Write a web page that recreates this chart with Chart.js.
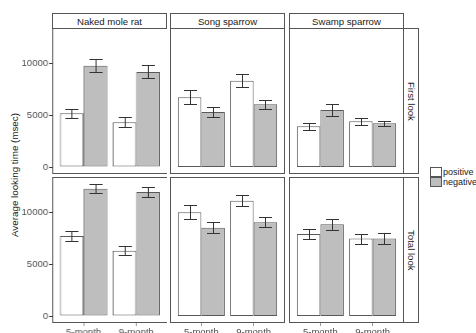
<!DOCTYPE html>
<html>
<head>
<meta charset="utf-8">
<script src="https://cdn.jsdelivr.net/npm/chart.js@4"></script>
<style>
  html, body { margin: 0; padding: 0; background: #fff; overflow: hidden; }
  body { width: 476px; height: 333px; position: relative; font-family: 'Liberation Sans', Arial, sans-serif; }
  .box { position: absolute; }
  .strip { position: absolute; box-sizing: border-box; border: 1px solid #555; background: #fff;
           color: #1a1a1a; font-size: 9.6px; display: flex; align-items: center; justify-content: center; }
  .side { writing-mode: vertical-rl; }
  .key { position: absolute; box-sizing: border-box; border: 1px solid #555; width: 12px; height: 10px; }
  .keytxt { position: absolute; font-size: 9px; color: #1a1a1a; line-height: 10px; }
  #ytitle { position: absolute; left: 14px; top: 175px; transform: translate(-50%, -50%) rotate(-90deg);
            font-size: 9.8px; color: #1a1a1a; white-space: nowrap; }
</style>
</head>
<body>
<div id="ytitle">Average looking time (msec)</div>
<div class="key" style="left:430px;top:167px;background:#fff"></div>
<div class="key" style="left:430px;top:177px;background:#bebebe"></div>
<div class="keytxt" style="left:443px;top:167px">positive</div>
<div class="keytxt" style="left:443px;top:177px">negative</div>

<script>
var species = ['Naked mole rat', 'Song sparrow', 'Swamp sparrow'];
var ages = ['5-month', '9-month'];
var measures = ['First look', 'Total look'];
var yTicks = [0, 5000, 10000];

// mean per species, [5-month, 9-month]
var firstPositive = [[5160, 4300], [6700, 8300], [3910, 4390]];
var firstPositiveSE = [[420, 500], [670, 620], [360, 340]];
var firstNegative = [[9740, 9140], [5290, 6030], [5480, 4200]];
var firstNegativeSE = [[610, 620], [510, 450], [530, 240]];
var totalPositive = [[7690, 6280], [9970, 11090], [7890, 7440]];
var totalPositiveSE = [[510, 420], [690, 530], [500, 480]];
var totalNegative = [[12240, 11920], [8490, 9010], [8810, 7440]];
var totalNegativeSE = [[430, 450], [510, 500], [510, 510]];

var posValues = [firstPositive, totalPositive];
var posErrors = [firstPositiveSE, totalPositiveSE];
var negValues = [firstNegative, totalNegative];
var negErrors = [firstNegativeSE, totalNegativeSE];

var panelLeft = [52, 170, 289];
var panelWidth = 115;
var rowTop = [28, 177];
var panelHeight = 146;
var yAxisWidth = 40;
var xAxisHeight = 10;
// ggplot discrete expansion: 0.6 units each side of 2 categories
var pad = panelWidth * 0.05 / 1.1;

var tickFont = { family: "'Liberation Sans', Arial, sans-serif", size: 9.5 };

var errorBars = {
    id: 'errorBars',
    afterDatasetsDraw: function (chart) {
        var ctx = chart.ctx;
        var ys = chart.scales.y;
        ctx.save();
        ctx.strokeStyle = '#333';
        ctx.lineWidth = 1;
        chart.data.datasets.forEach(function (ds, i) {
            var meta = chart.getDatasetMeta(i);
            meta.data.forEach(function (bar, j) {
                var v = ds.data[j];
                var e = ds.err[j];
                var x = Math.round(bar.x) + 0.5;
                var top = Math.round(ys.getPixelForValue(v + e)) + 0.5;
                var bot = Math.round(ys.getPixelForValue(v - e)) + 0.5;
                ctx.beginPath();
                ctx.moveTo(x, top); ctx.lineTo(x, bot);
                ctx.moveTo(x - 6.5, top); ctx.lineTo(x + 6.5, top);
                ctx.moveTo(x - 6.5, bot); ctx.lineTo(x + 6.5, bot);
                ctx.stroke();
            });
        });
        ctx.restore();
    }
};

var panelBorder = {
    id: 'panelBorder',
    afterDraw: function (chart) {
        var a = chart.chartArea;
        var ctx = chart.ctx;
        var l = Math.round(a.left - pad);
        var r = Math.round(a.right + pad);
        ctx.save();
        ctx.strokeStyle = '#555';
        ctx.lineWidth = 1;
        ctx.strokeRect(l + 0.5, Math.round(a.top) + 0.5, r - l - 1, Math.round(a.bottom - a.top) - 1);
        if (chart.options.scales.y.display) {
            var ys = chart.scales.y;
            ctx.strokeStyle = '#333';
            ctx.beginPath();
            yTicks.forEach(function (v) {
                var y = Math.round(ys.getPixelForValue(v)) + 0.5;
                ctx.moveTo(l - 3, y); ctx.lineTo(l, y);
            });
            ctx.stroke();
        }
        ctx.restore();
    }
};

function addDiv(cls, left, top, width, height, text) {
    var d = document.createElement('div');
    d.className = cls;
    d.style.left = left + 'px';
    d.style.top = top + 'px';
    d.style.width = width + 'px';
    d.style.height = height + 'px';
    if (text) d.textContent = text;
    document.body.appendChild(d);
    return d;
}

// strips
species.forEach(function (s, c) {
    addDiv('strip', panelLeft[c], 13, panelWidth, 16, s);
});
measures.forEach(function (m, r) {
    addDiv('strip side', 403, rowTop[r], 16, panelHeight, m);
});

for (var r = 0; r < 2; r++) {
    for (var c = 0; c < 3; c++) {
        var showY = c === 0;
        var showX = r === 1;
        var left = showY ? panelLeft[c] + pad - yAxisWidth : panelLeft[c];
        var width = showY ? panelWidth - pad + yAxisWidth : panelWidth;
        var height = showX ? panelHeight + xAxisHeight : panelHeight;
        var wrap = addDiv('box', left, rowTop[r], width, height);
        var cv = document.createElement('canvas');
        wrap.appendChild(cv);

        var xScale = {
            display: showX,
            grid: { display: true, offset: false, drawOnChartArea: false, drawTicks: true, tickLength: 3, color: '#999' },
            border: { display: false },
            ticks: { font: tickFont, color: '#4d4d4d', padding: 1, maxRotation: 0, autoSkip: false },
        };
        if (showX) xScale.afterFit = function (s) {
            s.height = xAxisHeight; s.paddingLeft = 0; s.paddingRight = 0;
        };

        var yScale = {
            min: -673,
            max: 13365,
            display: showY,
            border: { display: false },
            // transparent tick marks only push the labels left of the panel border
            grid: { display: true, drawOnChartArea: false, drawTicks: true,
                    tickLength: Math.round(pad) + 3, color: 'rgba(0,0,0,0)' },
            afterBuildTicks: function (s) { s.ticks = yTicks.map(function (v) { return { value: v }; }); },
            ticks: {
                font: tickFont,
                color: '#4d4d4d',
                padding: 1,
                callback: function (v) { return String(v); },
            },
        };
        if (showY) yScale.afterFit = function (s) {
            s.width = yAxisWidth; s.paddingTop = 0; s.paddingBottom = 0;
        };

        new Chart(cv.getContext('2d'), {
            type: 'bar',
            data: {
                labels: ages,
                datasets: [
                    {
                        label: 'positive',
                        data: posValues[r][c],
                        err: posErrors[r][c],
                        backgroundColor: '#ffffff',
                        borderColor: '#5a5a5a',
                        borderWidth: 1,
                        borderSkipped: false,
                        categoryPercentage: 0.9,
                        barPercentage: 1,
                    },
                    {
                        label: 'negative',
                        data: negValues[r][c],
                        err: negErrors[r][c],
                        backgroundColor: '#bebebe',
                        borderColor: '#5a5a5a',
                        borderWidth: 1,
                        borderSkipped: false,
                        categoryPercentage: 0.9,
                        barPercentage: 1,
                    },
                ],
            },
            options: {
                responsive: true,
                maintainAspectRatio: false,
                animation: false,
                layout: { padding: { left: showY ? 0 : pad, right: pad, top: 0, bottom: 0 } },
                plugins: { legend: { display: false }, tooltip: { enabled: false } },
                scales: { x: xScale, y: yScale },
            },
            plugins: [errorBars, panelBorder],
        });
    }
}
</script>
</body>
</html>
